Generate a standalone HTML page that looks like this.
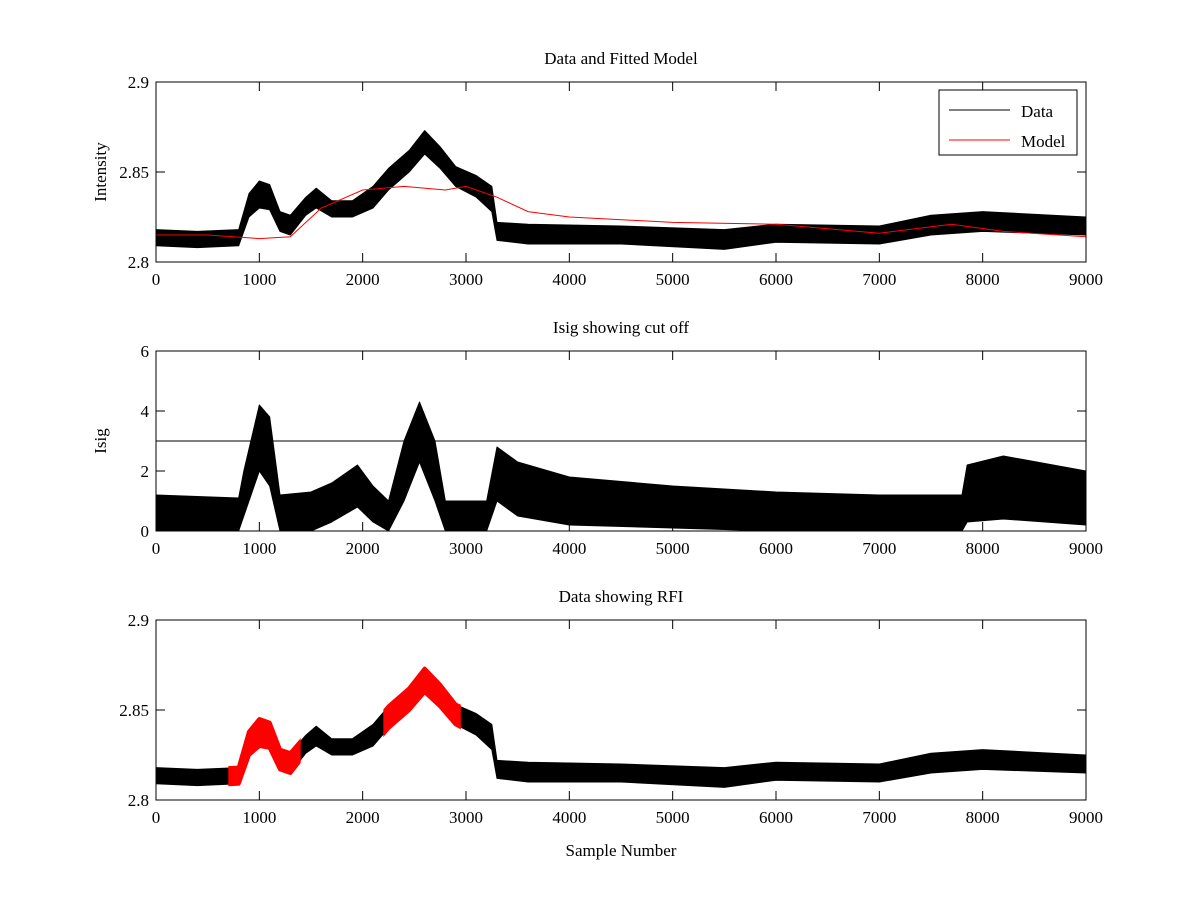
<!DOCTYPE html>
<html><head><meta charset="utf-8">
<style>
body{margin:0;background:#fff;}
svg{display:block;font-family:"Liberation Serif",serif;}
</style></head>
<body>
<svg id="fig" width="1200" height="900" viewBox="0 0 1200 900"></svg>
<script>
// ---- data ----
const xTicks = [0,1000,2000,3000,4000,5000,6000,7000,8000,9000];
const intTicks = [2.8,2.85,2.9];
const intTickLabels = ["2.8","2.85","2.9"];
const isigTicks = [0,2,4,6];
const isigTickLabels = ["0","2","4","6"];
const dataSamples = [0,400,800,900,1000,1100,1200,1300,1450,1550,1700,1900,2100,2250,2450,2600,2750,2900,3100,3250,3300,3600,4500,5500,6000,7000,7500,8000,9000];
const dataLo = [2.809,2.808,2.809,2.825,2.830,2.829,2.817,2.815,2.826,2.830,2.825,2.825,2.830,2.840,2.850,2.860,2.852,2.842,2.836,2.828,2.812,2.810,2.810,2.807,2.811,2.810,2.815,2.817,2.815];
const dataHi = [2.818,2.817,2.818,2.838,2.845,2.843,2.828,2.826,2.836,2.841,2.834,2.834,2.842,2.852,2.862,2.873,2.864,2.853,2.848,2.842,2.822,2.821,2.820,2.818,2.821,2.820,2.826,2.828,2.825];
const modelSamples = [0,500,1000,1300,1600,2000,2400,2800,3000,3300,3600,4000,5000,6000,7000,7700,8200,9000];
const modelValues = [2.815,2.815,2.813,2.814,2.830,2.840,2.842,2.840,2.842,2.836,2.828,2.825,2.822,2.821,2.816,2.821,2.817,2.814];
const isigSamples = [0,800,850,1000,1100,1200,1500,1700,1950,2100,2250,2400,2550,2700,2800,3200,3300,3500,4000,5000,6000,7000,7800,7850,8200,9000];
const isigLo = [0,0,0.5,2,1.5,0,0,0.3,0.8,0.3,0,1,2.3,1,0,0,1,0.5,0.2,0.1,0,0,0,0.3,0.4,0.2];
const isigHi = [1.2,1.1,2,4.2,3.8,1.2,1.3,1.6,2.2,1.5,1,3,4.3,3,1,1,2.8,2.3,1.8,1.5,1.3,1.2,1.2,2.2,2.5,2.0];
const cutoff = [3];
const rfiRanges = [[700,1400],[2200,2950]];

// ---- drawing ----
const NS="http://www.w3.org/2000/svg";
const svg=document.getElementById('fig');
function mk(tag,attrs,parent){const e=document.createElementNS(NS,tag);for(const k in attrs)e.setAttribute(k,attrs[k]);(parent||svg).appendChild(e);return e;}
const X0=156,X1=1086;
function sx(v){return X0+(v/9000)*(X1-X0);}
function makeY(top,bot,mn,mx){return v=>bot-(v-mn)/(mx-mn)*(bot-top);}

function axes(top,bot,ys,yt,ytl,title,ylabel,name){
  const g=mk('g',{});
  
  
  const r=mk('rect',{x:X0,y:top,width:X1-X0,height:bot-top,fill:'none',stroke:'#000','stroke-width':1},g);
  
  xTicks.forEach(t=>{const x=sx(t);
    mk('line',{x1:x,y1:bot,x2:x,y2:bot-9,stroke:'#000'},g);
    mk('line',{x1:x,y1:top,x2:x,y2:top+9,stroke:'#000'},g);
    const tx=mk('text',{x:x,y:bot+23,'text-anchor':'middle','font-size':17},g);tx.textContent=t;
    
  });
  yt.forEach((t,i)=>{const y=ys(t);
    mk('line',{x1:X0,y1:y,x2:X0+9,y2:y,stroke:'#000'},g);
    mk('line',{x1:X1,y1:y,x2:X1-9,y2:y,stroke:'#000'},g);
    const tx=mk('text',{x:X0-7,y:y+6,'text-anchor':'end','font-size':17},g);tx.textContent=ytl[i];
    
  });
  const tt=mk('text',{x:(X0+X1)/2,y:top-18,'text-anchor':'middle','font-size':17},g);tt.textContent=title;
  
  const yl=mk('text',{x:0,y:0,'text-anchor':'middle','font-size':17,transform:`translate(106,${(top+bot)/2}) rotate(-90)`},g);yl.textContent=ylabel;
  
}
function band(xs,lo,hi,ys,color,extra,parent){
  let pts=[];
  xs.forEach((s,i)=>pts.push(sx(s)+','+ys(hi[i])));
  for(let i=xs.length-1;i>=0;i--)pts.push(sx(xs[i])+','+ys(lo[i]));
  const a={points:pts.join(' '),fill:color,stroke:color,'stroke-width':1,'stroke-linejoin':'round'};
  for(const k in extra)a[k]=extra[k];
  return mk('polygon',a,parent);
}
function line(xs,vs,ys,color){
  return mk('polyline',{points:xs.map((s,i)=>sx(s)+','+ys(vs[i])).join(' '),fill:'none',stroke:color,'stroke-width':1});
}

// Plot 1
const y1=makeY(82,262,2.8,2.9);
const b1=band(dataSamples,dataLo,dataHi,y1,'#000');

const m1=line(modelSamples,modelValues,y1,'#f00');

axes(82,262,y1,intTicks,intTickLabels,'Data and Fitted Model','Intensity','data-model-plot');
// legend
const lg=mk('g',{});

mk('rect',{x:939,y:90,width:138,height:65,fill:'#fff',stroke:'#000'},lg);
mk('line',{x1:949,y1:110,x2:1010,y2:110,stroke:'#000'},lg);
const l1=mk('text',{x:1021,y:117,'font-size':17},lg);l1.textContent='Data';

mk('line',{x1:949,y1:140,x2:1010,y2:140,stroke:'#f00'},lg);
const l2=mk('text',{x:1021,y:147,'font-size':17},lg);l2.textContent='Model';


// Plot 2
const y2=makeY(351,531,0,6);
const b2=band(isigSamples,isigLo,isigHi,y2,'#000');

const cl=mk('line',{x1:X0,x2:X1,y1:y2(cutoff[0]),y2:y2(cutoff[0]),stroke:'#000'});

axes(351,531,y2,isigTicks,isigTickLabels,'Isig showing cut off','Isig','isig-plot');

// Plot 3
const y3=makeY(620,800,2.8,2.9);
const b3=band(dataSamples,dataLo,dataHi,y3,'#000');

rfiRanges.forEach((r,i)=>{
  const cp=mk('clipPath',{id:'rfi'+i});
  mk('rect',{x:sx(r[0]),y:600,width:sx(r[1])-sx(r[0]),height:220},cp);
  const rb=band(dataSamples,dataLo,dataHi,y3,'#f00',{'stroke-width':4,'clip-path':`url(#rfi${i})`});
  
});
axes(620,800,y3,intTicks,intTickLabels,'Data showing RFI','','rfi-plot');
const xl=mk('text',{x:(X0+X1)/2,y:856,'text-anchor':'middle','font-size':17});xl.textContent='Sample Number';

</script>
</body></html>
